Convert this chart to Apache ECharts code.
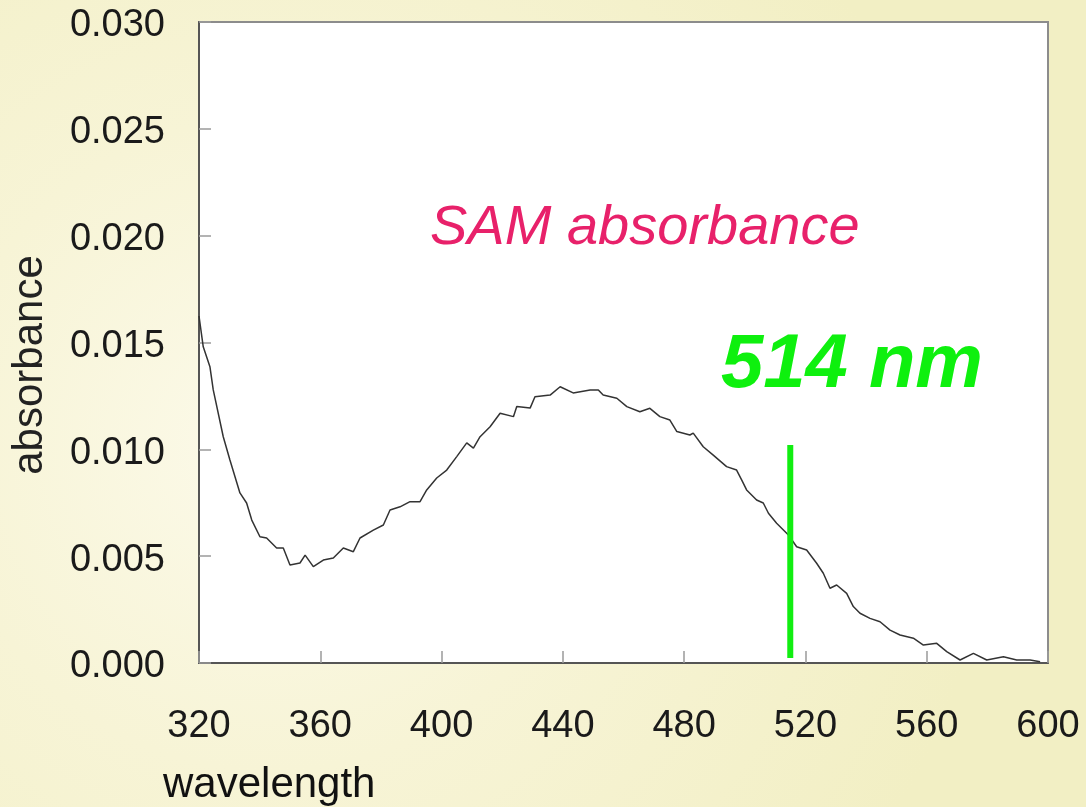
<!DOCTYPE html>
<html>
<head>
<meta charset="utf-8">
<script src="https://cdn.jsdelivr.net/npm/echarts@6/dist/echarts.min.js"></script>
<style>
html,body{margin:0;padding:0;background:#f5f2cc;}
#chart{width:1086px;height:807px;}
</style>
</head>
<body>
<div id="chart"></div>
<script>
// wavelength (nm)
const wavelength = [320,321.4,323.6,324.7,328.0,330.2,333.5,335.7,337.4,340.1,342.3,345.6,347.8,350.0,353.3,355.0,357.7,361.0,364.3,367.6,370.9,373.1,377.5,380.8,383.0,386.3,389.6,392.9,395.1,398.4,401.7,405.0,408.3,410.5,412.7,416.0,419.3,423.7,424.8,429.2,430.8,435.8,439.1,443.4,449.0,451.7,453.3,457.8,461.1,465.4,468.7,472.0,475.3,477.6,481.9,483.0,486.3,489.6,494.0,497.3,499.0,500.6,503.9,506.1,507.8,510.5,514.4,517.1,520.4,523.7,525.9,528.1,530.3,533.6,535.8,538.0,541.3,544.6,547.9,551.2,555.6,558.9,563.3,566.6,571.0,575.4,579.8,585.3,589.7,594.1,597.4];
// absorbance
const absorbance = [0.01624,0.01480,0.01387,0.01278,0.01059,0.00950,0.00796,0.00749,0.00669,0.00591,0.00585,0.00538,0.00538,0.00459,0.00468,0.00505,0.00451,0.00482,0.00491,0.00538,0.00521,0.00585,0.00622,0.00646,0.00716,0.00731,0.00755,0.00755,0.00810,0.00866,0.00903,0.00966,0.01030,0.01006,0.01059,0.01106,0.01169,0.01153,0.01200,0.01193,0.01246,0.01254,0.01293,0.01264,0.01278,0.01278,0.01254,0.01239,0.01200,0.01176,0.01192,0.01153,0.01137,0.01083,0.01067,0.01076,0.01012,0.00973,0.00919,0.00903,0.00856,0.00810,0.00763,0.00749,0.00701,0.00654,0.00599,0.00544,0.00529,0.00467,0.00420,0.00350,0.00365,0.00326,0.00264,0.00233,0.00209,0.00193,0.00154,0.00131,0.00116,0.00084,0.00092,0.00053,0.00014,0.00045,0.00014,0.00029,0.00014,0.00014,0.00006];
// marker line at the excitation wavelength
const markerX = [515, 515];
const markerY = [0.0102, 0.00023];
const xTicks = [320,360,400,440,480,520,560,600];
const yTicks = ['0.000','0.005','0.010','0.015','0.020','0.025','0.030'];

const chart = echarts.init(document.getElementById('chart'));
const lineData = wavelength.map((w,i)=>[w, absorbance[i]]);
const markerData = markerX.map((w,i)=>[w, markerY[i]]);

chart.setOption({
  backgroundColor: {
    type: 'radial', x: 0.25, y: 0.55, r: 0.9,
    colorStops: [
      {offset: 0, color: '#fcfaea'},
      {offset: 0.45, color: '#f7f4d6'},
      {offset: 1, color: '#f2efc4'}
    ]
  },
  animation: false,
  graphic: [
    {type:'text', left: 163, top: 764, z:10, style:{text:'wavelength', font:'42px "Liberation Sans", Arial, sans-serif', fill:'#111'}},
    {type:'text', x: 30, y: 365, rotation: Math.PI/2, z:10, style:{text:'absorbance', font:'42px "Liberation Sans", Arial, sans-serif', fill:'#222', textAlign:'center', textVerticalAlign:'middle'}},
    {type:'text', x: 430, y: 228, z:10, style:{text:'SAM absorbance', font:'italic 56px "Liberation Sans", Arial, sans-serif', fill:'#e8216a', textVerticalAlign:'middle'}},
    {type:'text', x: 721, y: 366, z:10, style:{text:'514 nm', font:'italic bold 76px "Liberation Sans", Arial, sans-serif', fill:'#0ef00e', textVerticalAlign:'middle'}}
  ],
  grid: {
    left: 199, right: 38, top: 22, bottom: 144,
    show: true, backgroundColor: '#ffffff', borderColor: '#8c8c8c', borderWidth: 2
  },
  xAxis: {
    type: 'value', min: 320, max: 600, interval: 40,
    axisLine: {show: true, lineStyle: {color: '#555', width: 2}},
    axisTick: {show: true, inside: true, length: 12, lineStyle: {color: '#9a9a9a', width: 1.5}},
    splitLine: {show: false},
    axisLabel: {margin: 45, fontSize: 38, color: '#1a1a1a', fontFamily: '"Liberation Sans", Arial, sans-serif',
      formatter: v => xTicks.includes(v) ? String(v) : ''}
  },
  yAxis: {
    type: 'value', min: 0, max: 0.03, interval: 0.005,
    axisLine: {show: true, lineStyle: {color: '#555', width: 2}},
    axisTick: {show: true, inside: true, length: 12, lineStyle: {color: '#9a9a9a', width: 1.5}},
    splitLine: {show: false},
    axisLabel: {margin: 34, fontSize: 38, color: '#1a1a1a', verticalAlign: 'top', lineHeight: 8,
      fontFamily: '"Liberation Sans", Arial, sans-serif',
      formatter: v => yTicks[Math.round(v/0.005)] || ''}
  },
  series: [
    {type: 'line', data: lineData, showSymbol: false, symbol: 'none',
      lineStyle: {color: '#333', width: 1.5}, z: 3},
    {type: 'line', data: markerData, showSymbol: false, symbol: 'none',
      lineStyle: {color: '#11ee11', width: 6, cap: 'butt'}, z: 4}
  ]
});
</script>
</body>
</html>
